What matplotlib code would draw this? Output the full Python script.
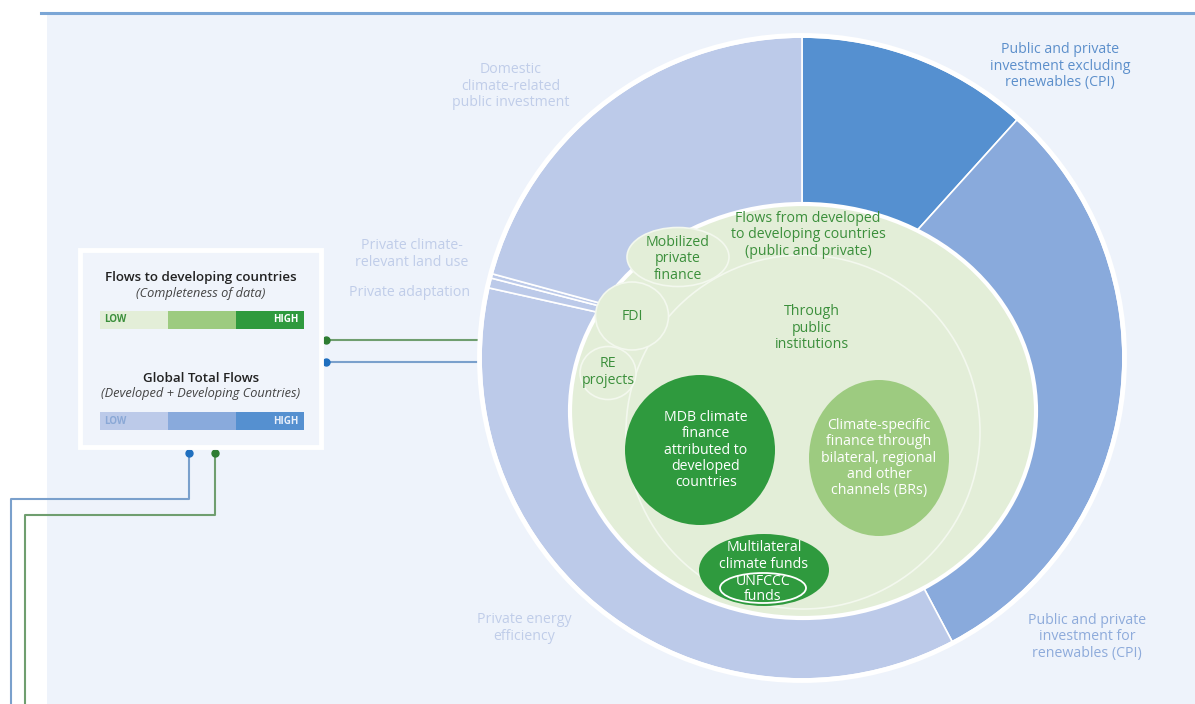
import matplotlib
matplotlib.use("Agg")
import matplotlib.pyplot as plt
from matplotlib.patches import Circle, Ellipse, Rectangle
from matplotlib import font_manager

# ---------------- data ----------------
ring_labels = ["Public and private\ninvestment excluding\nrenewables (CPI)",
               "Public and private\ninvestment for\nrenewables (CPI)",
               "Private energy\nefficiency",
               "Private adaptation",
               "Private climate-\nrelevant land use",
               "Domestic\nclimate-related\npublic investment"]
ring_shares = [11.7, 30.6, 36.3, 0.5, 0.22, 20.8]   # percent of ring, clockwise from top
ring_levels = ["high", "mid", "low", "low", "low", "low"]

inner_labels = ["Flows from developed\nto developing countries\n(public and private)",
                "Mobilized\nprivate\nfinance", "FDI", "RE\nprojects",
                "Through\npublic\ninstitutions",
                "MDB climate\nfinance\nattributed to\ndeveloped\ncountries",
                "Climate-specific\nfinance through\nbilateral, regional\nand other\nchannels (BRs)",
                "Multilateral\nclimate funds", "UNFCCC\nfunds"]

legend_titles = ["Flows to developing countries", "Global Total Flows"]
legend_subtitles = ["(Completeness of data)", "(Developed + Developing Countries)"]
scale_labels = ["LOW", "HIGH"]
scale_steps = [1, 1, 1]

# ---------------- style ----------------
BG = "#eef3fb"
blue = {"low": "#bccae9", "mid": "#89aadc", "high": "#5590d0"}
green = {"low": "#e3eed8", "mid": "#9dcb80", "high": "#2f9a3e"}
GTXT = "#3b8f3b"

avail = {f.name for f in font_manager.fontManager.ttflist}
fam = [f for f in ["Liberation Sans Narrow", "Open Sans", "DejaVu Sans"] if f in avail]
plt.rcParams["font.family"] = fam

W, H = 1195, 704
fig = plt.figure(figsize=(W / 100, H / 100), dpi=100)
fig.patch.set_facecolor("white")
ax = fig.add_axes([0, 0, 1, 1])
ax.set_xlim(0, W)
ax.set_ylim(0, H)
ax.set_aspect("equal")
ax.axis("off")

def Y(y):
    return H - y

# panel background and top rule
ax.add_patch(Rectangle((47, 0), W - 47, Y(14), facecolor=BG, edgecolor="none", zorder=0))
ax.plot([41, W], [Y(13), Y(13)], color="#7ba6d6", lw=2.2, zorder=1)

# ---------------- outer ring ----------------
cx, cy, R = 802, Y(358), 321
ax.pie(ring_shares, startangle=90, counterclock=False, radius=R, center=(cx, cy),
       colors=[blue[l] for l in ring_levels], frame=True,
       wedgeprops=dict(edgecolor="white", linewidth=1.2))
ax.add_patch(Circle((cx, cy), R + 1.5, facecolor="none", edgecolor="white", lw=3.5, zorder=3))

# inner green area
ax.add_patch(Ellipse((803, Y(411)), 466, 414, facecolor=green["low"], edgecolor="white", lw=3, zorder=4))
# through public institutions outline
ax.add_patch(Circle((803, Y(432)), 177, facecolor="none", edgecolor="#f3f8ee", lw=1.2, zorder=5))
# small private bubbles
ax.add_patch(Ellipse((678, Y(257)), 102, 59, facecolor=green["low"], edgecolor="#f3f8ee", lw=1.2, zorder=5))
ax.add_patch(Ellipse((632, Y(316)), 73, 68, facecolor=green["low"], edgecolor="#f3f8ee", lw=1.2, zorder=5))
ax.add_patch(Ellipse((608, Y(373)), 56, 53, facecolor=green["low"], edgecolor="#f3f8ee", lw=1.2, zorder=5))
# public institution bubbles
ax.add_patch(Circle((700, Y(450)), 75, facecolor=green["high"], edgecolor="none", zorder=6))
ax.add_patch(Ellipse((879, Y(458)), 140, 156, facecolor=green["mid"], edgecolor="none", zorder=6))
ax.add_patch(Ellipse((764, Y(570)), 130, 72, facecolor=green["high"], edgecolor="none", zorder=6))
ax.add_patch(Ellipse((763, Y(588)), 86, 30, facecolor="none", edgecolor="white", lw=1.3, zorder=7))

FS = 10.2
LS = 1.13
tk = dict(ha="center", va="center", fontsize=FS, linespacing=LS, zorder=10)

# ring labels
ax.text(1060, Y(66), ring_labels[0], color="#5c8fcb", **tk)
ax.text(1087, Y(637), ring_labels[1], color="#8eabdb", **tk)
ax.text(524, Y(628), ring_labels[2], color="#c0cde9", **tk)
ax.text(410, Y(293), ring_labels[3], color="#c0cde9", **tk)
ax.text(412, Y(254), ring_labels[4], color="#c0cde9", **tk)
ax.text(511, Y(86), ring_labels[5], color="#c0cde9", **tk)

# inner labels
pos = [(808, 235), (678, 259), (632, 317), (608, 372), (812, 328),
       (706, 450), (879, 458), (764, 556), (763, 589)]
cols = [GTXT, GTXT, GTXT, GTXT, GTXT, "white", "white", "white", "white"]
lss = [LS, LS, LS, LS, LS, LS, LS, LS, 0.95]
for lab, (x, y), c, l in zip(inner_labels, pos, cols, lss):
    kw = dict(tk)
    kw["linespacing"] = l
    ax.text(x, Y(y), lab, color=c, **kw)

# ---------------- legend box ----------------
ax.add_patch(Rectangle((80, Y(447)), 241, 197, facecolor="#f0f4fb", edgecolor="white", lw=3.5, zorder=8))
bar_specs = [(320, [green["low"], green["mid"], green["high"]], GTXT, "white"),
             (421, [blue["low"], blue["mid"], blue["high"]], "#8aa8d6", "#e8effa")]
title_y = [(278, 294), (378, 394)]
for i, (by, colors_, lowc, highc) in enumerate(bar_specs):
    lefts = [100 + 68 * sum(scale_steps[:k]) for k in range(len(scale_steps))]
    ax.barh([Y(by)] * 3, [68 * s for s in scale_steps], left=lefts, height=18,
            color=colors_, edgecolor="none", zorder=9)
    ax.text(104, Y(by), scale_labels[0], color=lowc, fontsize=7, fontweight="bold",
            ha="left", va="center", zorder=10)
    ax.text(299, Y(by), scale_labels[1], color=highc, fontsize=7, fontweight="bold",
            ha="right", va="center", zorder=10)
    ax.text(201, Y(title_y[i][0]), legend_titles[i], color="#222222", fontsize=9.6,
            fontweight="semibold", ha="center", va="center", zorder=10)
    ax.text(201, Y(title_y[i][1]), legend_subtitles[i], color="#444444", fontsize=9.2,
            style="italic", ha="center", va="center", zorder=10)

# ---------------- connectors ----------------
GL, BL = "#6f9e6f", "#7aa0cc"
GD, BD = "#2e7d32", "#1f6fbf"
ax.plot([326, 477], [Y(340), Y(340)], color=GL, lw=1.5, zorder=2)
ax.plot([326, 477], [Y(362), Y(362)], color=BL, lw=1.5, zorder=2)
ax.plot([326], [Y(340)], "o", color=GD, ms=5, zorder=3)
ax.plot([326], [Y(362)], "o", color=BD, ms=5, zorder=3)
ax.plot([189, 189, 11, 11], [Y(453), Y(499), Y(499), Y(704)], color=BL, lw=1.5, zorder=2)
ax.plot([215, 215, 25, 25], [Y(453), Y(515), Y(515), Y(704)], color=GL, lw=1.5, zorder=2)
ax.plot([189], [Y(453)], "o", color=BD, ms=5, zorder=3)
ax.plot([215], [Y(453)], "o", color=GD, ms=5, zorder=3)

ax.set_xlim(0, W)
ax.set_ylim(0, H)
fig.savefig("out.png", dpi=100, facecolor="white")
